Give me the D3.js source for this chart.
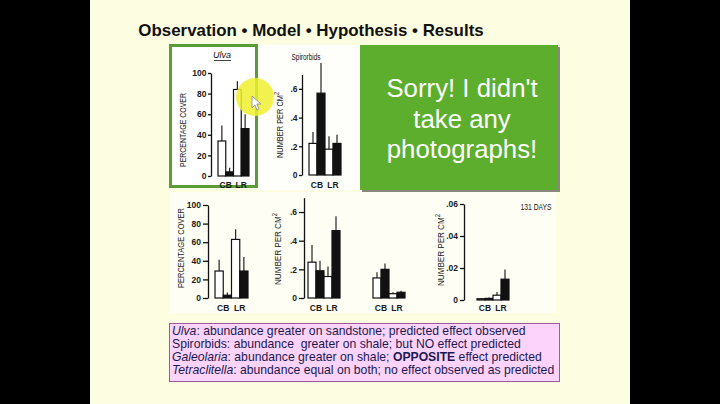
<!DOCTYPE html>
<html><head><meta charset="utf-8">
<script src="https://cdn.jsdelivr.net/npm/d3@7"></script>
<style>html,body{margin:0;padding:0;background:#000;} svg{display:block}</style>
</head><body><svg id="c" width="720" height="404"></svg>
<script>
// ---------- data ----------
const categories = ["CB", "LR"];
const seriesNames = ["open", "filled"];
const pctTicks = [0, 20, 40, 60, 80, 100];
const densTicks = [0, 0.2, 0.4, 0.6];
const smallTicks = [0, 0.02, 0.04, 0.06];

// Ulva (top)
const ulvaTopOpen = [34, 84];
const ulvaTopFilled = [4, 46];
const ulvaTopOpenErr = [49, 92];
const ulvaTopFilledErr = [8, 60];
// Spirorbids (top)
const spiroTopOpen = [0.22, 0.18];
const spiroTopFilled = [0.57, 0.22];
const spiroTopOpenErr = [0.30, 0.27];
const spiroTopFilledErr = [0.78, 0.28];
// Ulva (bottom)
const ulvaBotOpen = [29, 63];
const ulvaBotFilled = [3, 29];
const ulvaBotOpenErr = [41, 74];
const ulvaBotFilledErr = [6, 44];
// Spirorbids (bottom), two sets
const spiroBotAOpen = [0.25, 0.15];
const spiroBotAFilled = [0.19, 0.47];
const spiroBotAOpenErr = [0.37, 0.22];
const spiroBotAFilledErr = [0.26, 0.57];
const spiroBotBOpen = [0.14, 0.03];
const spiroBotBFilled = [0.20, 0.04];
const spiroBotBOpenErr = [0.18, 0.04];
const spiroBotBFilledErr = [0.24, 0.05];
// 131 days
const daysOpen = [0.0008, 0.003];
const daysFilled = [0.001, 0.013];
const daysOpenErr = [0.0012, 0.005];
const daysFilledErr = [0.0015, 0.019];

const slideTitle = "Observation \u2022 Model \u2022 Hypothesis \u2022 Results";
const sorryLines = ["Sorry! I didn't", "take any", "photographs!"];
const notes = [
  [["Ulva", "i"], [": abundance greater on sandstone; predicted effect observed", ""]],
  [["Spirorbids: abundance  greater on shale; but NO effect predicted", ""]],
  [["Galeolaria", "i"], [": abundance greater on shale; ", ""], ["OPPOSITE", "b"], [" effect predicted", ""]],
  [["Tetraclitella", "i"], [": abundance equal on both; no effect observed as predicted", ""]]
];

// ---------- drawing ----------
const svg = d3.select("#c");
const FONT = "Liberation Sans, Arial, sans-serif";

svg.append("rect").attr("x", 0).attr("y", 0).attr("width", 720).attr("height", 404).attr("fill", "#000");
svg.append("rect").attr("x", 90).attr("y", 0).attr("width", 540).attr("height", 404).attr("fill", "#fdfde2");

// scanned figure backgrounds
svg.append("rect").attr("x", 258).attr("y", 45).attr("width", 102).attr("height", 145).attr("fill", "#fefefa");
svg.append("rect").attr("x", 170).attr("y", 192).attr("width", 386).attr("height", 121).attr("fill", "#fefef4");

svg.append("text").attr("x", 311).attr("y", 36).attr("text-anchor", "middle")
  .attr("font-family", FONT).attr("font-weight", "bold").attr("font-size", 16.9)
  .attr("fill", "#111").text(slideTitle);

// Ulva box
svg.append("rect").attr("x", 170.5).attr("y", 45.5).attr("width", 86).attr("height", 141)
  .attr("fill", "#fff").attr("stroke", "#5b9b38").attr("stroke-width", 3);

const fmtDens = d => d === 0 ? "0" : d3.format(".1f")(d).replace(/^0/, "");
const fmtSmall = d => d === 0 ? "0" : d3.format(".2f")(d).replace(/^0/, "");

function panel(p) {
  const g = svg.append("g");
  const y = d3.scaleLinear().domain([0, p.top]).range([p.y0, p.y1]);
  const ax = g.append("g").attr("transform", `translate(${p.axisX},0)`)
    .call(d3.axisLeft(y).tickValues(p.ticks).tickFormat(p.fmt).tickSize(p.tick).tickSizeOuter(0).tickPadding(p.pad));
  ax.selectAll("path,line").attr("stroke", "#111").attr("stroke-width", 1.3);
  ax.selectAll("text").attr("font-family", FONT).attr("font-size", 8.5).attr("font-weight", "bold").attr("fill", "#1a1a1a");

  p.groups.forEach(gr => {
    const x = d3.scaleBand().domain(categories).range([gr.x0, gr.x1]).padding(0);
    const xs = d3.scaleBand().domain(seriesNames).range([0, x.bandwidth()]).padding(0);
    const rows = [];
    categories.forEach((c, i) => {
      rows.push({c, s: "open", v: gr.open[i], e: gr.openErr[i]});
      rows.push({c, s: "filled", v: gr.filled[i], e: gr.filledErr[i]});
    });
    g.selectAll(null).data(rows).enter().append("line")
      .attr("x1", d => x(d.c) + xs(d.s) + xs.bandwidth() / 2)
      .attr("x2", d => x(d.c) + xs(d.s) + xs.bandwidth() / 2)
      .attr("y1", d => y(d.v)).attr("y2", d => y(d.e))
      .attr("stroke", "#222").attr("stroke-width", 1.2);
    g.selectAll(null).data(rows).enter().append("rect")
      .attr("x", d => x(d.c) + xs(d.s))
      .attr("y", d => y(d.v))
      .attr("width", xs.bandwidth())
      .attr("height", d => y(0) - y(d.v))
      .attr("fill", d => d.s === "open" ? "#fff" : "#111")
      .attr("stroke", "#111").attr("stroke-width", 1.2);
    g.selectAll(null).data(categories).enter().append("text")
      .attr("x", c => x(c) + x.bandwidth() / 2).attr("y", p.labelY)
      .attr("text-anchor", "middle").attr("font-family", FONT).attr("font-size", 8.5)
      .attr("font-weight", "bold").attr("fill", "#1a1a1a").text(c => c);
  });

  const t = g.append("text")
    .attr("transform", `translate(${p.tx},${p.ty}) rotate(-90)`)
    .attr("text-anchor", "middle").attr("font-family", FONT).attr("font-size", 9.5)
    .attr("fill", "#1a1a1a").attr("textLength", p.tlen).attr("lengthAdjust", "spacingAndGlyphs");
  if (p.sup) {
    t.append("tspan").text(p.title);
    t.append("tspan").attr("dy", -4).attr("font-size", 7).text("2");
  } else t.text(p.title);
  return y;
}

panel({axisX: 211, y0: 176, y1: 73, top: 100, ticks: pctTicks, fmt: d3.format("d"), tick: 3, pad: 1.5,
  groups: [{x0: 218, x1: 249, open: ulvaTopOpen, filled: ulvaTopFilled, openErr: ulvaTopOpenErr, filledErr: ulvaTopFilledErr}],
  labelY: 188, tx: 186, ty: 130, tlen: 74, title: "PERCENTAGE COVER"});
panel({axisX: 302, y0: 175, y1: 74.5, top: 0.7, ticks: densTicks, fmt: fmtDens, tick: 3, pad: 1.5,
  groups: [{x0: 309, x1: 341, open: spiroTopOpen, filled: spiroTopFilled, openErr: spiroTopOpenErr, filledErr: spiroTopFilledErr}],
  labelY: 188, tx: 283, ty: 125, tlen: 66, title: "NUMBER PER CM", sup: true});
panel({axisX: 208, y0: 298, y1: 205, top: 100, ticks: pctTicks, fmt: d3.format("d"), tick: 5, pad: 2,
  groups: [{x0: 215, x1: 248, open: ulvaBotOpen, filled: ulvaBotFilled, openErr: ulvaBotOpenErr, filledErr: ulvaBotFilledErr}],
  labelY: 311, tx: 184, ty: 248, tlen: 80, title: "PERCENTAGE COVER"});
panel({axisX: 304, y0: 298, y1: 197.7, top: 0.7, ticks: densTicks, fmt: fmtDens, tick: 5, pad: 2,
  groups: [
    {x0: 308, x1: 340, open: spiroBotAOpen, filled: spiroBotAFilled, openErr: spiroBotAOpenErr, filledErr: spiroBotAFilledErr},
    {x0: 373, x1: 405, open: spiroBotBOpen, filled: spiroBotBFilled, openErr: spiroBotBOpenErr, filledErr: spiroBotBFilledErr}],
  labelY: 311, tx: 281, ty: 249, tlen: 72, title: "NUMBER PER CM", sup: true});
panel({axisX: 464, y0: 300, y1: 204, top: 0.06, ticks: smallTicks, fmt: fmtSmall, tick: 4, pad: 2,
  groups: [{x0: 477, x1: 509, open: daysOpen, filled: daysFilled, openErr: daysOpenErr, filledErr: daysFilledErr}],
  labelY: 311, tx: 444, ty: 250, tlen: 72, title: "NUMBER PER CM", sup: true});

// panel titles
svg.append("text").attr("x", 222).attr("y", 58).attr("text-anchor", "middle")
  .attr("font-family", FONT).attr("font-style", "italic").attr("font-size", 9).attr("fill", "#111").text("Ulva");
svg.append("line").attr("x1", 214).attr("x2", 231).attr("y1", 60.5).attr("y2", 60.5).attr("stroke", "#111").attr("stroke-width", 0.8);
svg.append("text").attr("x", 306).attr("y", 60).attr("text-anchor", "middle")
  .attr("font-family", FONT).attr("font-size", 8.5).attr("fill", "#111")
  .attr("textLength", 29).attr("lengthAdjust", "spacingAndGlyphs").text("Spirorbids");
svg.append("text").attr("x", 536).attr("y", 210).attr("text-anchor", "middle")
  .attr("font-family", FONT).attr("font-size", 9).attr("fill", "#1a1a1a")
  .attr("textLength", 31).attr("lengthAdjust", "spacingAndGlyphs").text("131 DAYS");

// yellow pointer highlight
svg.append("circle").attr("cx", 255).attr("cy", 97).attr("r", 19).attr("fill", "#f0f030").attr("opacity", 0.85);
svg.append("path").attr("d", "M252,96 L252,108 L255,105 L257,110 L259,109 L257,104 L261,104 Z")
  .attr("fill", "#fff").attr("stroke", "#888").attr("stroke-width", 0.8);

// green box
svg.append("rect").attr("x", 362).attr("y", 47).attr("width", 198).attr("height", 145).attr("fill", "#555").attr("opacity", 0.7);
svg.append("rect").attr("x", 360).attr("y", 45).attr("width", 198).attr("height", 145).attr("fill", "#5dae2d");
svg.selectAll(null).data(sorryLines).enter().append("text")
  .attr("x", 462).attr("y", (d, i) => 97 + i * 30.5).attr("text-anchor", "middle")
  .attr("font-family", FONT).attr("font-size", 25.8).attr("fill", "#fff").text(d => d);

// notes box
svg.append("rect").attr("x", 169.5).attr("y", 323.5).attr("width", 390).attr("height", 58)
  .attr("fill", "#fbd3fb").attr("stroke", "#9a5f9a").attr("stroke-width", 1);
notes.forEach((parts, i) => {
  const t = svg.append("text").attr("x", 172).attr("y", 335 + i * 13)
    .attr("font-family", FONT).attr("font-size", 12.2).attr("fill", "#1b1a50")
    .style("white-space", "pre");
  parts.forEach(([s, st]) => {
    const ts = t.append("tspan").text(s);
    if (st === "i") ts.attr("font-style", "italic");
    if (st === "b") ts.attr("font-weight", "bold");
  });
});
</script></body></html>
